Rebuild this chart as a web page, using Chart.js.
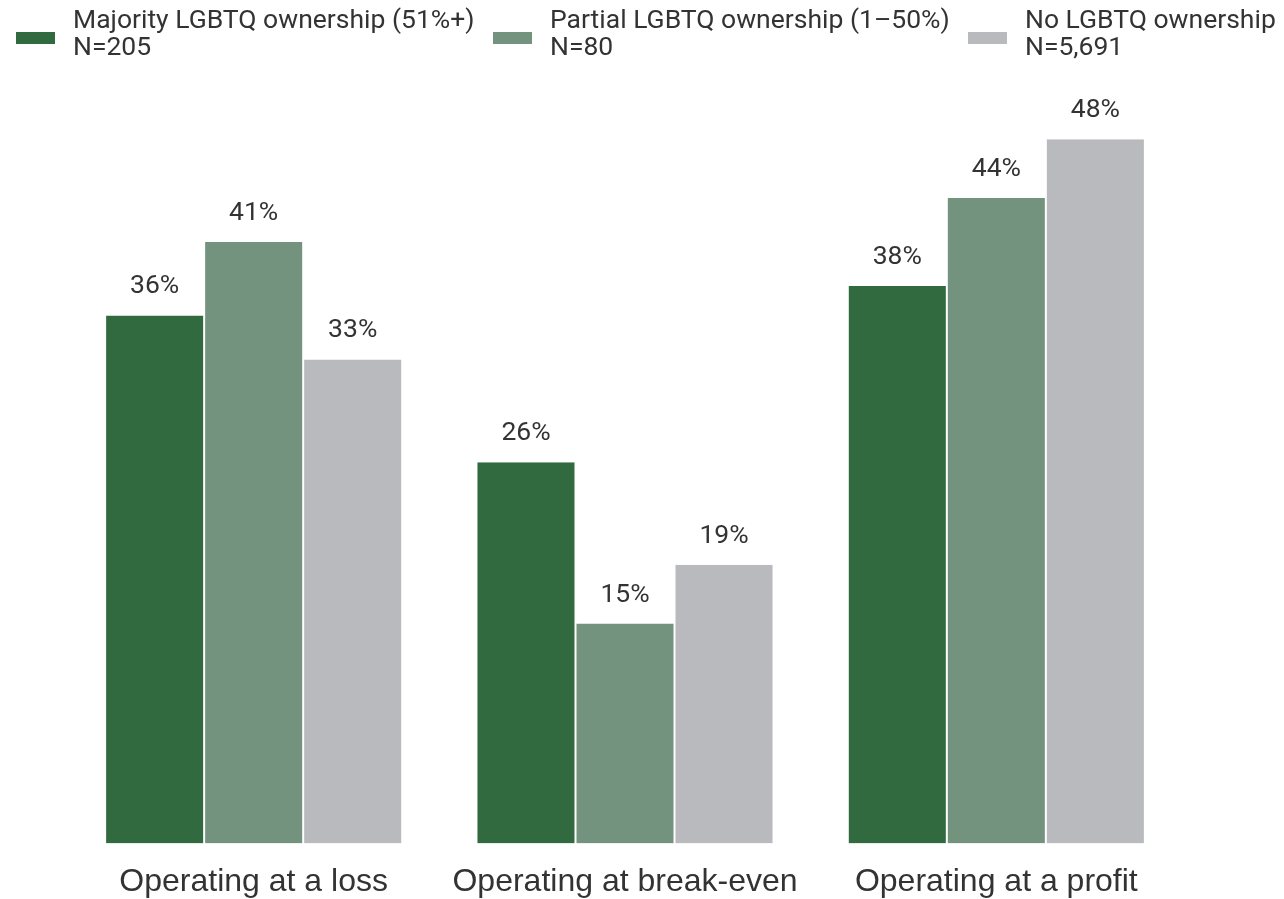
<!DOCTYPE html>
<html>
<head>
<meta charset="utf-8">
<script src="https://cdn.jsdelivr.net/npm/chart.js@4/dist/chart.umd.min.js"></script>
<style>
  html, body { margin: 0; padding: 0; background: #fff; overflow: hidden; }
  #wrap { position: relative; width: 1284px; height: 899px; overflow: hidden; }
  #chart { position: absolute; left: 0; top: 0; }
  .leg { position: absolute; top: 5px; font: 26.5px Roboto, sans-serif; line-height: 27px; color: #333; white-space: nowrap; }
  .leg .box { position: absolute; top: 27px; width: 39px; height: 12px; }
  .leg .txt { position: absolute; top: 0; }
</style>
</head>
<body>
<div id="wrap">
  <canvas id="chart" width="1284" height="928"></canvas>
  <div id="legend"></div>
</div>
<script>
// chart data
var categories = ['Operating at a loss', 'Operating at break-even', 'Operating at a profit'];
var seriesNames = ['Majority LGBTQ ownership (51%+)', 'Partial LGBTQ ownership (1\u201350%)', 'No LGBTQ ownership'];
var seriesCounts = ['N=205', 'N=80', 'N=5,691'];
var majorityVals = [36, 26, 38];
var partialVals = [41, 15, 44];
var noneVals = [33, 19, 48];
var colors = ['#306a3e', '#74937f', '#b9babe'];

// legend (html, positioned like the original)
var legendX = [16, 493, 968];
var legendEl = document.getElementById('legend');
seriesNames.forEach(function (name, i) {
  var d = document.createElement('div');
  d.className = 'leg';
  d.style.left = legendX[i] + 'px';
  d.innerHTML = '<div class="box" style="background:' + colors[i] + '"></div>' +
    '<div class="txt" style="left:57px">' + name + '<br>' + seriesCounts[i] + '</div>';
  legendEl.appendChild(d);
});

// value labels above bars
var valueLabels = {
  id: 'valueLabels',
  afterDatasetsDraw: function (chart) {
    var ctx = chart.ctx;
    ctx.save();
    ctx.font = '26.5px Roboto, sans-serif';
    ctx.fillStyle = '#333';
    ctx.textAlign = 'center';
    ctx.textBaseline = 'alphabetic';
    chart.data.datasets.forEach(function (ds, i) {
      chart.getDatasetMeta(i).data.forEach(function (bar, j) {
        ctx.fillText(ds.data[j] + '%', bar.x, bar.y - 22);
      });
    });
    ctx.restore();
  }
};

new Chart(document.getElementById('chart'), {
  type: 'bar',
  data: {
    labels: categories,
    datasets: [majorityVals, partialVals, noneVals].map(function (vals, i) {
      return {
        label: seriesNames[i],
        data: vals,
        backgroundColor: colors[i],
        borderColor: '#ffffff',
        borderWidth: { left: 1, right: 1, top: 0, bottom: 0 },
        borderSkipped: false,
        categoryPercentage: 0.8,
        barPercentage: 1.0
      };
    })
  },
  options: {
    responsive: false,
    animation: false,
    layout: { padding: { left: 68, right: 102, top: 110, bottom: 8 } },
    plugins: { legend: { display: false }, tooltip: { enabled: false } },
    scales: {
      x: {
        grid: { display: false, drawTicks: false },
        border: { display: false },
        ticks: { color: '#333', font: { family: 'Liberation Sans, Arial, sans-serif', size: 32 }, padding: 19 }
      },
      y: { display: false, min: 0, max: 50 }
    }
  },
  plugins: [valueLabels]
});
</script>
</body>
</html>
